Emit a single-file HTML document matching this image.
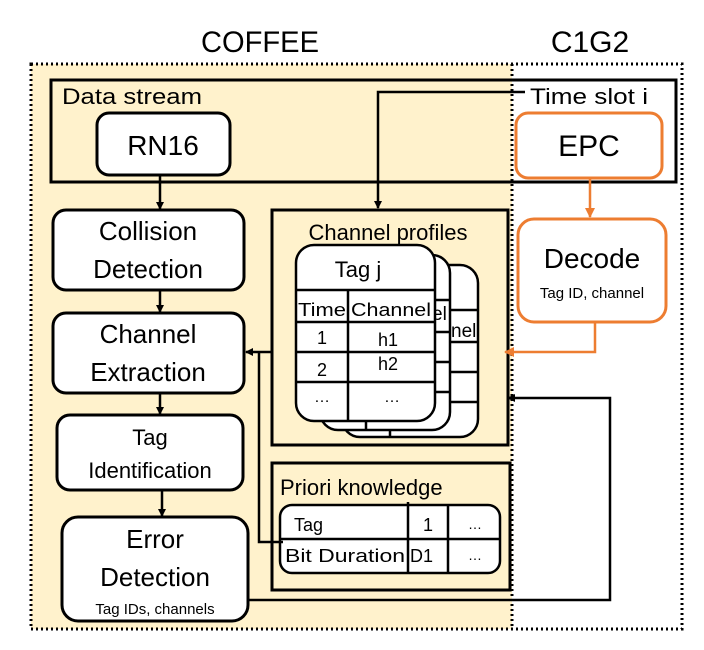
<!DOCTYPE html>
<html><head><meta charset="utf-8"><style>
html,body{margin:0;padding:0;background:#fff;}
svg{display:block;font-family:"Liberation Sans",sans-serif;}
</style></head><body>
<svg width="704" height="650" viewBox="0 0 704 650" xmlns="http://www.w3.org/2000/svg">
<defs>
<marker id="ab" markerWidth="8" markerHeight="8" refX="7" refY="4" orient="auto" markerUnits="userSpaceOnUse"><path d="M0,0 L8,4 L0,8 z" fill="#000"/></marker>
<marker id="ao" markerWidth="10" markerHeight="10" refX="9" refY="5" orient="auto" markerUnits="userSpaceOnUse"><path d="M0,0 L10,5 L0,10 z" fill="#ED7D31"/></marker>
</defs>
<rect x="31" y="64" width="481" height="565" fill="#FFF2CC"/>
<text x="260" y="52" font-size="30" text-anchor="middle" fill="#000" textLength="118" lengthAdjust="spacingAndGlyphs">COFFEE</text>
<text x="590" y="52" font-size="30" text-anchor="middle" fill="#000">C1G2</text>
<rect x="31" y="64" width="651" height="565" fill="none" stroke="#000" stroke-width="3" stroke-dasharray="2,3"/>
<line x1="512" y1="64" x2="512" y2="629" stroke="#000" stroke-width="3" stroke-dasharray="2,3"/>
<rect x="51" y="80" width="625" height="102" fill="none" stroke="#000" stroke-width="3"/>
<text x="62" y="104" font-size="22" textLength="140" lengthAdjust="spacingAndGlyphs">Data stream</text>
<text x="530" y="104" font-size="22" textLength="118" lengthAdjust="spacingAndGlyphs">Time slot i</text>
<rect x="97" y="113" width="133" height="62" rx="12" fill="#fff" stroke="#000" stroke-width="3"/>
<text x="163" y="155" font-size="28" text-anchor="middle">RN16</text>
<rect x="516" y="113" width="146" height="65" rx="12" fill="#fff" stroke="#ED7D31" stroke-width="3"/>
<text x="589" y="156" font-size="30" text-anchor="middle">EPC</text>
<polyline points="525,92 378,92 378,208" fill="none" stroke="#000" stroke-width="2.5" marker-end="url(#ab)"/>
<line x1="160" y1="175" x2="160" y2="209" stroke="#000" stroke-width="2.5" marker-end="url(#ab)"/>
<rect x="53" y="210" width="191" height="80" rx="13" fill="#fff" stroke="#000" stroke-width="3"/>
<text x="148" y="240" font-size="26" text-anchor="middle">Collision</text>
<text x="148" y="278" font-size="26" text-anchor="middle">Detection</text>
<line x1="160" y1="290" x2="160" y2="312" stroke="#000" stroke-width="2.5" marker-end="url(#ab)"/>
<rect x="53" y="313" width="191" height="80" rx="13" fill="#fff" stroke="#000" stroke-width="3"/>
<text x="148" y="343" font-size="26" text-anchor="middle">Channel</text>
<text x="148" y="381" font-size="26" text-anchor="middle">Extraction</text>
<line x1="160" y1="393" x2="160" y2="414" stroke="#000" stroke-width="2.5" marker-end="url(#ab)"/>
<rect x="57" y="415" width="186" height="75" rx="13" fill="#fff" stroke="#000" stroke-width="3"/>
<text x="150" y="445" font-size="22" text-anchor="middle">Tag</text>
<text x="150" y="478" font-size="22" text-anchor="middle">Identification</text>
<line x1="162" y1="490" x2="162" y2="516" stroke="#000" stroke-width="2.5" marker-end="url(#ab)"/>
<rect x="62" y="517" width="186" height="104" rx="16" fill="#fff" stroke="#000" stroke-width="3"/>
<text x="155" y="548" font-size="26" text-anchor="middle">Error</text>
<text x="155" y="586" font-size="26" text-anchor="middle">Detection</text>
<text x="155" y="614" font-size="15" text-anchor="middle">Tag IDs, channels</text>
<rect x="272" y="210" width="236" height="235" fill="none" stroke="#000" stroke-width="3"/>
<text x="388" y="240" font-size="22" text-anchor="middle">Channel profiles</text>
<g stroke="#000" stroke-width="2.5" fill="#fff">
<rect x="342" y="265" width="136" height="172" rx="18"/>
<line x1="342" y1="310" x2="478" y2="310"/><line x1="342" y1="342" x2="478" y2="342"/><line x1="342" y1="372" x2="478" y2="372"/><line x1="342" y1="402" x2="478" y2="402"/><line x1="390" y1="402" x2="390" y2="437"/>
</g>
<text x="451" y="337" font-size="19">nel</text>
<g stroke="#000" stroke-width="2.5" fill="#fff">
<rect x="320" y="255" width="130" height="175" rx="18"/>
<line x1="320" y1="300" x2="450" y2="300"/><line x1="320" y1="332" x2="450" y2="332"/><line x1="320" y1="362" x2="450" y2="362"/><line x1="320" y1="392" x2="450" y2="392"/><line x1="366" y1="392" x2="366" y2="430"/>
</g>
<text x="432" y="320" font-size="19">el</text>
<g stroke="#000" stroke-width="2.5" fill="#fff">
<rect x="296" y="245" width="139" height="176" rx="18"/>
<line x1="296" y1="290" x2="435" y2="290"/><line x1="296" y1="322" x2="435" y2="322"/><line x1="296" y1="352" x2="435" y2="352"/><line x1="296" y1="382" x2="435" y2="382"/><line x1="348" y1="290" x2="348" y2="421"/>
</g>
<text x="358" y="277" font-size="22" text-anchor="middle">Tag j</text>
<text x="322" y="316" font-size="18" text-anchor="middle" textLength="48" lengthAdjust="spacingAndGlyphs">Time</text>
<text x="391" y="316" font-size="18" text-anchor="middle" textLength="80" lengthAdjust="spacingAndGlyphs">Channel</text>
<text x="322" y="344" font-size="18" text-anchor="middle">1</text>
<text x="388" y="346" font-size="18" text-anchor="middle">h1</text>
<text x="322" y="376" font-size="18" text-anchor="middle">2</text>
<text x="388" y="370" font-size="18" text-anchor="middle">h2</text>
<text x="322" y="402" font-size="16" text-anchor="middle">…</text>
<text x="392" y="402" font-size="16" text-anchor="middle">…</text>
<rect x="272" y="463" width="238" height="127" fill="none" stroke="#000" stroke-width="3"/>
<text x="280" y="495" font-size="22">Priori knowledge</text>
<rect x="280" y="505" width="220" height="68" rx="12" fill="#fff" stroke="#000" stroke-width="2.5"/>
<line x1="280" y1="539" x2="500" y2="539" stroke="#000" stroke-width="2.5"/>
<line x1="408" y1="502" x2="408" y2="573" stroke="#000" stroke-width="2.5"/>
<line x1="448" y1="505" x2="448" y2="573" stroke="#000" stroke-width="2.5"/>
<text x="294" y="531" font-size="18">Tag</text>
<text x="423" y="531" font-size="18">1</text>
<text x="475" y="529" font-size="14" text-anchor="middle">…</text>
<text x="285" y="562" font-size="18" textLength="120" lengthAdjust="spacingAndGlyphs">Bit Duration</text>
<text x="410" y="562" font-size="18">D1</text>
<text x="475" y="560" font-size="14" text-anchor="middle">…</text>
<polyline points="283,542 259,542 259,352" fill="none" stroke="#000" stroke-width="2.5"/>
<line x1="272" y1="352" x2="246" y2="352" stroke="#000" stroke-width="2.5" marker-end="url(#ab)"/>
<polyline points="248,600 610,600 610,398 508,398" fill="none" stroke="#000" stroke-width="2.5" marker-end="url(#ab)"/>
<line x1="590" y1="178" x2="590" y2="217" stroke="#ED7D31" stroke-width="2.5" marker-end="url(#ao)"/>
<rect x="518" y="219" width="148" height="103" rx="16" fill="#fff" stroke="#ED7D31" stroke-width="3"/>
<text x="592" y="268" font-size="28" text-anchor="middle">Decode</text>
<text x="592" y="298" font-size="15" text-anchor="middle">Tag ID, channel</text>
<polyline points="595,322 595,352 505,352" fill="none" stroke="#ED7D31" stroke-width="2.5" marker-end="url(#ao)"/>
</svg>
</body></html>
